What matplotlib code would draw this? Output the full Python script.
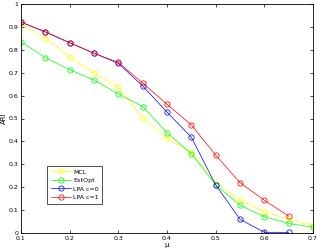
import numpy as np
import matplotlib
matplotlib.use("Agg")
import matplotlib.pyplot as plt

# mixing parameter
mu = [0.1, 0.15, 0.2, 0.25, 0.3, 0.35, 0.4, 0.45, 0.5, 0.55, 0.6, 0.65, 0.7]

mcl = [0.913, 0.849, 0.77, 0.699, 0.636, 0.502, 0.413, 0.352, 0.221, 0.144, 0.093, 0.06, 0.035]
extopt = [0.834, 0.766, 0.713, 0.668, 0.607, 0.552, 0.438, 0.346, 0.21, 0.122, 0.071, 0.042, 0.025]
lpa_c0 = [0.921, 0.878, 0.831, 0.785, 0.741, 0.642, 0.528, 0.418, 0.21, 0.06, 0.003, 0.003]
lpa_c1 = [0.921, 0.878, 0.831, 0.785, 0.745, 0.655, 0.562, 0.472, 0.34, 0.22, 0.143, 0.074]

labels = ["MCL", "ExtOpt", "LPA c=0", "LPA c=1"]
colors = ["#ffff00", "#00ff00", "#0000ff", "#ff0000"]

fig = plt.figure(figsize=(3.17, 2.52), dpi=100)
ax = fig.add_axes([21/317, 19/252, 292/317, 229/252])

series = [mcl, extopt, lpa_c0, lpa_c1]
for ys, lab, col in zip(series, labels, colors):
    ax.plot(mu[:len(ys)], ys, "-o", color=col, lw=0.5, ms=3.8,
            mfc="none", mew=0.55, label=lab)

ax.set_xlim(0.1, 0.7)
ax.set_ylim(0, 1)
ax.set_xticks(np.arange(0.1, 0.71, 0.1))
ax.set_yticks(np.arange(0, 1.01, 0.1))
ax.set_xticklabels(["0.1", "0.2", "0.3", "0.4", "0.5", "0.6", "0.7"])
ax.set_yticklabels(["0", "0.1", "0.2", "0.3", "0.4", "0.5", "0.6", "0.7", "0.8", "0.9", "1"])
ax.tick_params(direction="in", top=True, right=True, labelsize=4.5,
               length=2.5, width=0.5, pad=2)
for s in ax.spines.values():
    s.set_linewidth(0.6)

ax.set_xlabel("μ", fontsize=5, labelpad=1)
ax.set_ylabel("ARI", fontsize=5, labelpad=1)

leg = ax.legend(loc="lower left", bbox_to_anchor=(0.08, 0.115), fontsize=4.5,
                frameon=True, fancybox=False, edgecolor="black",
                handlelength=3.2, borderpad=0.55, labelspacing=0.5,
                handletextpad=0.4)
leg.get_frame().set_linewidth(0.6)

fig.savefig("out.png", dpi=100)
